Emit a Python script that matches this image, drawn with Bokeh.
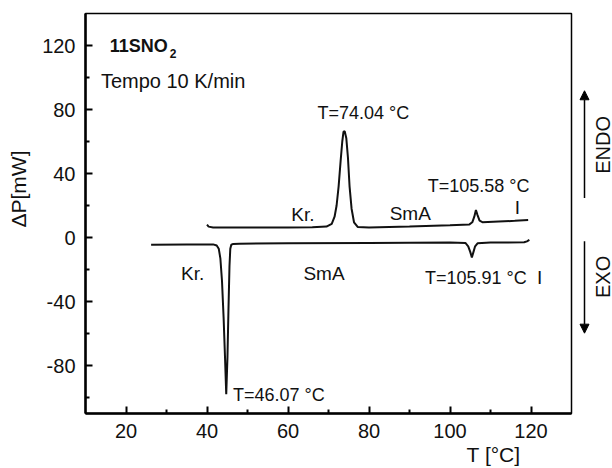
from math import pi
from bokeh.plotting import figure
from bokeh.layouts import row
from bokeh.models import Range1d, FixedTicker, Label, Arrow, NormalHead, Title
from bokeh.embed import file_html
from bokeh.resources import INLINE

# Heating run (upper curve)
heat_T = [40.0, 40.4, 41.5, 50, 60, 66, 69.5, 70.8, 71.5, 72.0, 72.5, 73.0, 73.4, 73.7, 74.0,
          74.4, 74.8, 75.2, 75.7, 76.3, 77.2, 80, 90, 100, 104.8, 105.5, 106.0, 106.4, 106.8,
          107.3, 108.0, 112, 116, 119.3]
heat_P = [8.0, 6.8, 6.3, 6.2, 6.3, 6.4, 6.8, 8.5, 13, 20, 32, 48, 60, 66, 66.5,
          62, 50, 32, 18, 9.5, 6.6, 6.3, 6.8, 7.6, 8.2, 9.5, 13, 17.2, 14,
          10.5, 9.6, 10.0, 10.4, 10.9]

# Cooling run (lower curve)
cool_T = [26.2, 35, 41.5, 42.4, 42.9, 43.3, 43.7, 44.1, 44.45, 44.75, 45.05, 45.3, 45.55,
          45.75, 46.0, 46.5, 48, 60, 80, 100, 103.8, 104.5, 105.0, 105.4, 105.8, 106.2,
          106.8, 110, 118.3, 119.0, 119.6]
cool_P = [-4.5, -4.3, -4.3, -5.0, -7, -13, -27, -50, -75, -98, -75, -45, -18,
          -7, -4.5, -4.0, -3.9, -3.6, -3.4, -3.2, -3.4, -5.5, -9, -12.5, -9, -5.5,
          -3.6, -3.2, -3.0, -2.4, -1.5]

x_major = [20, 40, 60, 80, 100, 120]
x_minor = [30, 50, 70, 90, 110]
y_major = [-80, -40, 0, 40, 80, 120]
y_minor = [-100, -60, -20, 20, 60, 100]

FONT = "Liberation Sans"
INK = "#111111"

yr = Range1d(-110, 140)
p = figure(width=573, height=468, output_backend="svg", toolbar_location=None,
           x_range=Range1d(10, 130), y_range=yr,
           min_border_left=85, min_border_right=2, min_border_top=13, min_border_bottom=55)
p.background_fill_color = "white"
p.border_fill_color = "white"
p.outline_line_color = "black"
p.outline_line_width = 1.5
p.xgrid.visible = False
p.ygrid.visible = False

p.xaxis.ticker = FixedTicker(ticks=x_major, minor_ticks=x_minor)
p.yaxis.ticker = FixedTicker(ticks=y_major, minor_ticks=y_minor)
p.yaxis.major_label_overrides = {v: str(v) for v in y_major}
for ax in (p.xaxis[0], p.yaxis[0]):
    ax.axis_line_width = 2.5
    ax.axis_line_color = "black"
    ax.major_tick_in = 7
    ax.major_tick_out = 0
    ax.minor_tick_in = 4
    ax.minor_tick_out = 0
    ax.major_tick_line_width = 2
    ax.minor_tick_line_width = 2
    ax.major_label_text_font = FONT
    ax.major_label_text_font_size = "20px"
    ax.major_label_text_color = INK
    ax.major_label_standoff = 10

p.line(heat_T, heat_P, line_color=INK, line_width=2)
p.line(cool_T, cool_P, line_color=INK, line_width=2)


def lab(fig, x, y, text, size="18px", style="normal", align="left", baseline="alphabetic", angle=0):
    fig.add_layout(Label(x=x, y=y, text=text, text_font=FONT, text_font_size=size,
                         text_font_style=style, text_align=align, text_baseline=baseline,
                         angle=angle, text_color=INK))


lab(p, 67.3, 78, "T=74.04 °C")
lab(p, 60.8, 14.2, "Kr.", size="19px")
lab(p, 85.1, 14.8, "SmA", size="19px")
lab(p, 94.5, 32.3, "T=105.58 °C")
lab(p, 116.0, 18.6, "I", size="19px")
lab(p, 33.6, -22.7, "Kr.", size="19px")
lab(p, 63.8, -22.5, "SmA", size="19px")
lab(p, 93.8, -25, "T=105.91 °C")
lab(p, 121.5, -25, "I", size="19px")
lab(p, 46.4, -98.3, "T=46.07 °C")
lab(p, 16.0, 119.8, "11SNO", size="18px", style="bold")
lab(p, 30.8, 114.8, "2", size="12px", style="bold")
lab(p, 13.8, 97.9, "Tempo 10 K/min", size="20px")

# axis titles placed as side titles (not clipped)
p.add_layout(Title(text="ΔP[mW]", align="right", offset=137, text_font=FONT,
                   text_font_size="21px", text_font_style="normal", text_color=INK,
                   standoff=8, padding=(0, 0, 0, 6)), "left")
p.add_layout(Title(text="T [°C]", align="right", offset=51, text_font=FONT,
                   text_font_size="21px", text_font_style="normal", text_color=INK,
                   standoff=0), "below")

# side panel with ENDO / EXO arrows
side = figure(width=39, height=468, output_backend="svg", toolbar_location=None,
              x_range=Range1d(0, 39), y_range=yr, x_axis_location=None, y_axis_location=None,
              min_border_left=0, min_border_right=0, min_border_top=13, min_border_bottom=55)
side.outline_line_color = None
side.xgrid.visible = False
side.ygrid.visible = False
side.background_fill_color = "white"
side.border_fill_color = "white"

side.add_layout(Arrow(end=NormalHead(size=9, fill_color="black", line_color="black"),
                      x_start=11, y_start=24.7, x_end=11, y_end=91.7,
                      line_width=1.5, line_color="black"))
side.add_layout(Arrow(end=NormalHead(size=9, fill_color="black", line_color="black"),
                      x_start=11, y_start=-2.3, x_end=11, y_end=-59.8,
                      line_width=1.5, line_color="black"))
lab(side, 29, 57.9, "ENDO", size="20px", align="center", baseline="middle", angle=pi / 2)
lab(side, 29, -24.6, "EXO", size="20px", align="center", baseline="middle", angle=pi / 2)

layout = row(p, side, spacing=0)
open("out.html", "w").write(file_html(layout, INLINE))
